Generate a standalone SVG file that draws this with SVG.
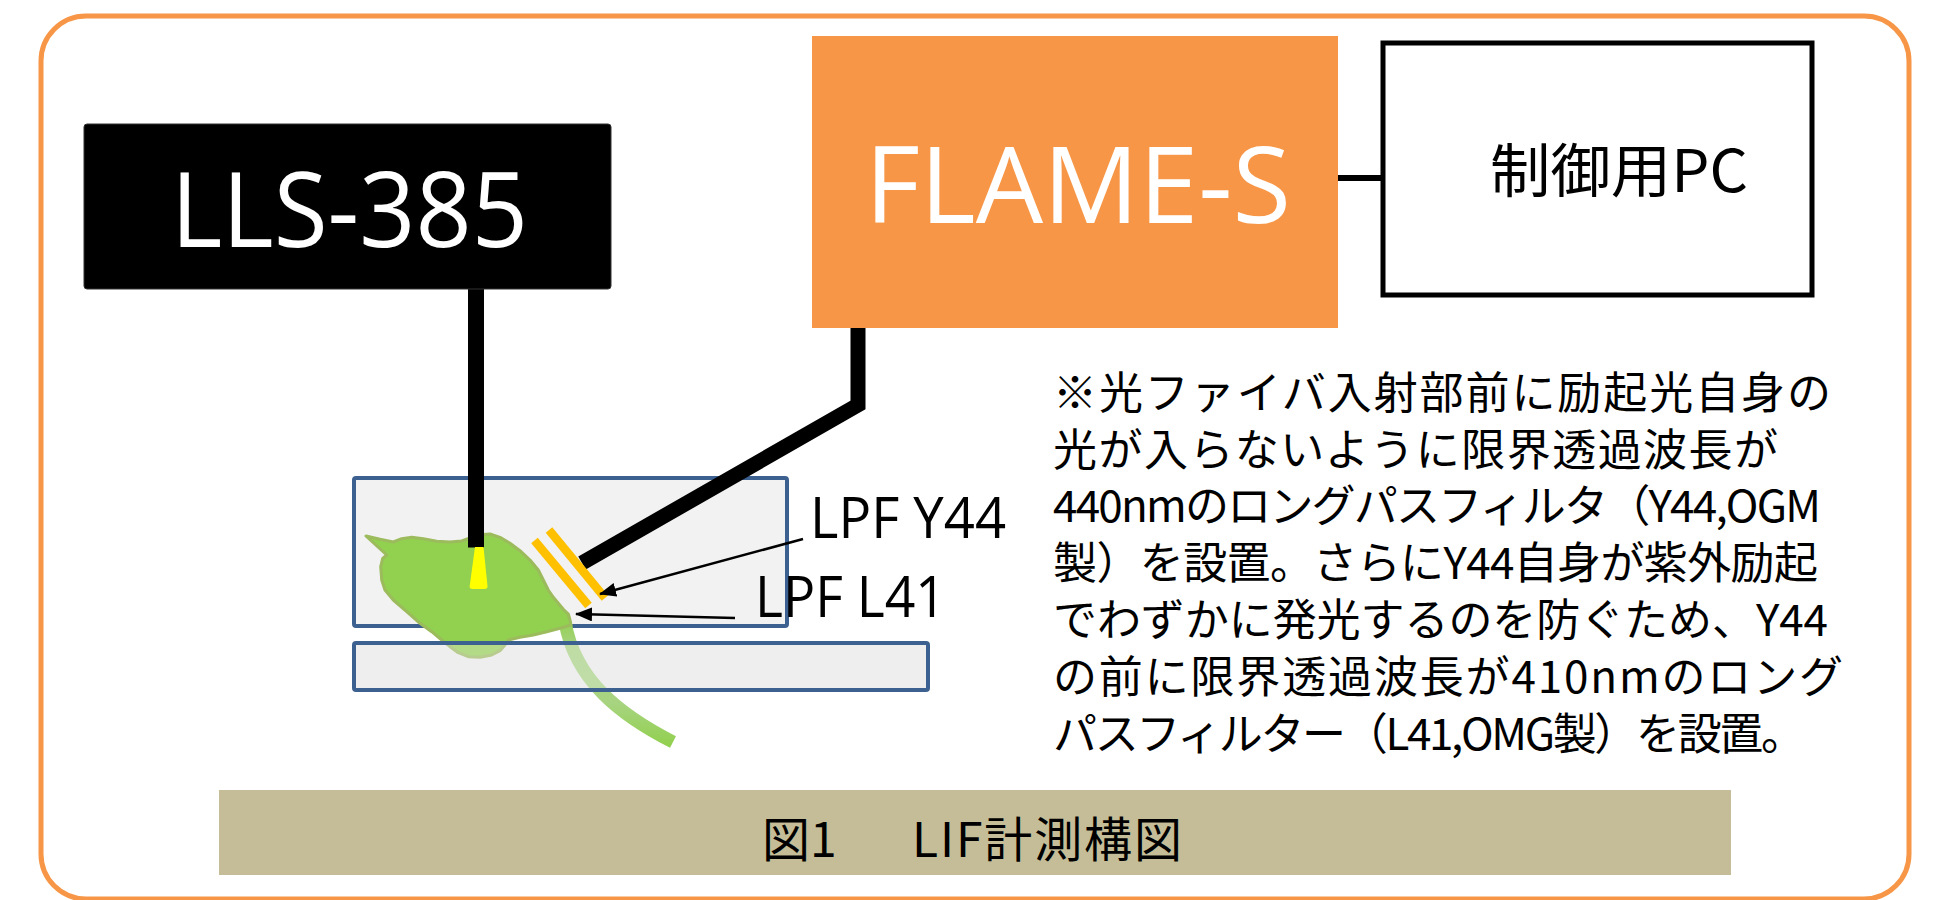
<svg xmlns="http://www.w3.org/2000/svg" width="1935" height="900" viewBox="0 0 1935 900">
  <defs>
    <style>
      .latin { font-family: "Open Sans", "Liberation Sans", sans-serif; }
      .jp { font-family: "Noto Sans CJK JP", "Noto Sans", sans-serif; fill: #000; }
      .stage { stroke: #3c6090; stroke-width: 4; }
      .fiber { fill: none; stroke: #000; stroke-width: 15; stroke-linejoin: miter; }
      .filter { stroke: #ffc000; stroke-width: 8.5; stroke-linecap: butt; }
      .pointer { fill: none; stroke: #000; stroke-width: 2.5; marker-end: url(#arrow); }
    </style>
    <marker id="arrow" markerUnits="userSpaceOnUse" markerWidth="17" markerHeight="14" refX="16" refY="7" orient="auto">
      <path d="M0,0 L17,7 L0,14 Z" fill="#000"/>
    </marker>
    <linearGradient id="tailFade" gradientUnits="userSpaceOnUse" x1="0" y1="620" x2="0" y2="745">
      <stop offset="0" stop-color="#92d050"/>
      <stop offset="0.2" stop-color="#a6d37f"/>
      <stop offset="0.65" stop-color="#a8d482"/>
      <stop offset="1" stop-color="#92d050"/>
    </linearGradient>
  </defs>

  <!-- frame -->
  <rect x="41" y="16" width="1868" height="883" rx="45" ry="45" fill="#fff" stroke="#f79646" stroke-width="5"/>

  <!-- sample stage: lower plate base -->
  <rect x="354" y="643" width="574" height="47" rx="2" fill="#eeeeee" stroke="none"/>

  <!-- sample stage: upper plate -->
  <g id="upper-plate">
    <rect class="stage" x="354" y="478" width="433" height="148" rx="2" fill="#f2f2f2"/>
  </g>

  <!-- specimen -->
  <g id="specimen">
    <path d="M565,622 C575,680 620,715 673,742" fill="none" stroke="url(#tailFade)" stroke-width="13"/>
    <path d="M366,536 L380,539.3 L393.3,542 L401.7,538.7 L411.7,537.3 L423.3,538.7 L436.7,541.3 L450,542 L461.7,541 L470,538 L480,534.7 L490,534 L500,537.3 L510,543.3 L520,550.7 L530,560 L538.3,570 L543.3,580 L548.3,590 L553.3,597.3 L558.3,603.3 L563.3,609.3 L568.3,614 L570,620 L571,625 L560,628.3 L546.7,631.7 L533.3,635 L520,637.3 L508.3,640 L505,645 L500,650.7 L491.7,655 L480,657.3 L468.3,656.7 L458.3,652.7 L450,646.7 L441.7,640 L431.7,631.7 L420,623.3 L406.7,611.7 L393.3,600 L385,590 L381.7,580 L380.7,566.7 L382.7,558.3 L386.7,555 Z" fill="#92d050" stroke="#9cbb5c" stroke-width="3" stroke-linejoin="round"/>
  </g>

  <!-- sample stage: lower plate (translucent over specimen) -->
  <g id="lower-plate">
    <rect class="stage" x="354" y="643" width="574" height="47" rx="2" fill="#eeeeee" fill-opacity="0.35"/>
  </g>

  <!-- connectors -->
  <g id="connectors">
    <line x1="476" y1="289" x2="476" y2="547.5" stroke="#000" stroke-width="16"/>
    <path d="M475,547 L483.5,547 L487.5,586 Q487.8,589 484.5,589 L472.5,589 Q469.3,589 469.7,586 Z" fill="#ffff00"/>
    <polyline class="fiber" points="858,319 858,405 582,563"/>
    <line x1="1329" y1="178" x2="1383" y2="178" stroke="#000" stroke-width="6"/>
    <line class="filter" x1="534.5" y1="540.5" x2="588.5" y2="605.5"/>
    <line class="filter" x1="549" y1="530" x2="605" y2="598"/>
    <line class="pointer" x1="803" y1="539" x2="600" y2="594"/>
    <line class="pointer" x1="735" y1="618" x2="576" y2="614"/>
  </g>

  <!-- light source -->
  <g id="lls-385">
    <rect x="84" y="124" width="527" height="165" rx="3" fill="#000" stroke="#333" stroke-width="1"/>
    <text class="latin" x="171" y="247" font-size="105" fill="#fff" textLength="357" lengthAdjust="spacingAndGlyphs">LLS-385</text>
  </g>

  <!-- spectrometer -->
  <g id="flame-s">
    <rect x="812" y="36" width="526" height="292" fill="#f79646"/>
    <text class="latin" x="865" y="223" font-size="106" fill="#fff" textLength="426" lengthAdjust="spacingAndGlyphs">FLAME-S</text>
  </g>

  <!-- control PC -->
  <g id="control-pc">
    <rect x="1383" y="43" width="429" height="252" fill="#fff" stroke="#000" stroke-width="5"/>
    <text class="jp" x="1490" y="192" font-size="58" textLength="258" lengthAdjust="spacingAndGlyphs">制御用PC</text>
  </g>

  <!-- filter labels -->
  <g id="label-y44">
    <text class="latin" x="810" y="538" font-size="56" fill="#000" textLength="196" lengthAdjust="spacingAndGlyphs">LPF Y44</text>
  </g>
  <g id="label-l41">
    <text class="latin" x="755" y="617" font-size="56" fill="#000" textLength="191" lengthAdjust="spacingAndGlyphs">LPF L41</text>
  </g>

  <!-- note -->
  <g id="note" class="jp" font-size="44">
    <text x="1053" y="409" textLength="778">※光ファイバ入射部前に励起光自身の</text>
    <text x="1053" y="466" textLength="725">光が入らないように限界透過波長が</text>
    <text x="1053" y="522" textLength="768">440nmのロングパスフィルタ（Y44,OGM</text>
    <text x="1053" y="579" textLength="765">製）を設置。さらにY44自身が紫外励起</text>
    <text x="1053" y="636" textLength="775">でわずかに発光するのを防ぐため、Y44</text>
    <text x="1053" y="693" textLength="790">の前に限界透過波長が410nmのロング</text>
    <text x="1053" y="750" textLength="752">パスフィルター（L41,OMG製）を設置。</text>
  </g>

  <!-- caption -->
  <g id="caption">
    <rect x="219" y="790" width="1512" height="85" fill="#c4bd97"/>
    <text class="jp" x="762" y="857" font-size="48">図1<tspan x="912" textLength="270">LIF計測構図</tspan></text>
  </g>
</svg>
